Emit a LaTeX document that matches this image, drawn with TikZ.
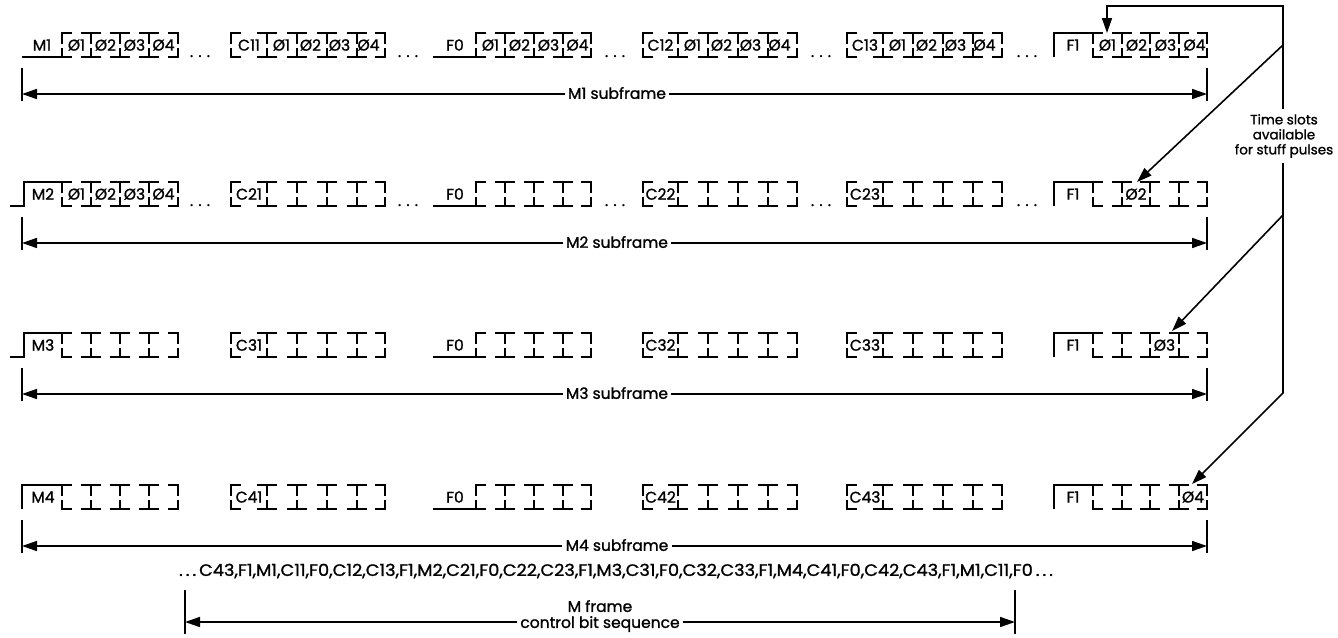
\documentclass[tikz,border=0pt]{standalone}
\usepackage{fontspec}
\usepackage{graphicx}
\setmainfont{Poppins}[FakeBold=1.2]
\usetikzlibrary{arrows.meta}
\newcommand{\slotbox}[4]{%
  \pgfmathsetmacro{\sbTop}{#1-12}\pgfmathsetmacro{\sbBot}{#1+12}%
  \pgfmathsetmacro{\sbMa}{#1-1}\pgfmathsetmacro{\sbMb}{#1+3}%
  \draw[wave] (#2+10,\sbTop) -- (#2,\sbTop) -- (#2,\sbMa) (#2,\sbMb) -- (#2,\sbBot) -- (#2+10,\sbBot);
  \foreach \bx in {#3} {
    \draw[wave] (\bx-10,\sbTop) -- (\bx+10,\sbTop) (\bx,\sbTop) -- (\bx,\sbMa)
      (\bx,\sbMb) -- (\bx,\sbBot) (\bx-10,\sbBot) -- (\bx+10,\sbBot);
  }
  \draw[wave] (#4-10,\sbTop) -- (#4,\sbTop) -- (#4,\sbMa) (#4,\sbMb) -- (#4,\sbBot) -- (#4-10,\sbBot);
}
\newcommand{\rowboxes}[1]{%
  \slotbox{#1}{62}{91,120,149}{178}
  \slotbox{#1}{231}{267,297,327,357}{385}
  \draw[wave] (433,#1+12) -- (476,#1+12);
  \slotbox{#1}{476}{505,534,563}{591}
  \slotbox{#1}{643}{678,708,738,768}{797}
  \slotbox{#1}{847}{883,913,943,973}{1002}
  \draw[wave] (1054,#1+12) -- (1054,#1-12) -- (1093,#1-12);
  \slotbox{#1}{1093}{1122,1150,1179}{1207}
}
\newcommand{\ctrl}[7]{% #1 row name, #2 y, #3..#7 control labels
  \node[lab] (#1c1) at (249,#2) {#3};
  \node[lab] (#1f0) at (455,#2) {#4};
  \node[lab] (#1c2) at (660.5,#2) {#5};
  \node[lab] (#1c3) at (865,#2) {#6};
  \node[lab] (#1f1) at (1073,#2) {#7};
}
\newcommand{\subdim}[3]{% #1 y center, #2 name, #3 text
  \node[lab, fill=white, inner sep=3pt] (#2) at (617,#1+48) {#3};
  \coordinate (#2L) at (22,#1+49);
  \coordinate (#2R) at (1207,#1+49);
  \draw[wave] (22,#1+23) -- (22,#1+56) (1207,#1+23) -- (1207,#1+56);
  \draw[dim] (#2.west |- #2L) -- (#2L);
  \draw[dim] (#2.east |- #2R) -- (#2R);
}
\newcommand{\dotsat}[3]{\node[lab, anchor=base] (#1) at (#2,#3+12) {.\,\,.\,\,.};}
\begin{document}
\begin{tikzpicture}[x=1pt,y=-1pt,
  wave/.style={line width=1.8pt},
  dim/.style={line width=1.6pt, -{Triangle[length=15pt,width=10pt]}},
  lab/.style={font=\fontsize{15.5}{16}\selectfont, inner sep=1pt}]
\fill[white] (0,0) rectangle (1338,637);
\useasboundingbox (0,0) rectangle (1338,637);

% ---------- Row 1 ----------
\rowboxes{45}
\draw[wave] (22,57) -- (62,57);
\node[lab] (m1) at (42,45) {M1};
\ctrl{r1}{45}{C11}{F0}{C12}{C13}{F1}
\foreach \gx [count=\g] in {62,267,476,678,883,1093} {
  \foreach \k [count=\i] in {1,2,3,4} {
    \pgfmathsetmacro{\cx}{\gx + (\i-0.5)*29}
    \node[lab] (r1g\g s\i) at (\cx,45) {Ø\k};
  }
}
\dotsat{r1d1}{200}{45}\dotsat{r1d2}{408}{45}\dotsat{r1d3}{615}{45}
\dotsat{r1d4}{821}{45}\dotsat{r1d5}{1027}{45}
\subdim{45}{sf1}{M1 subframe}

% ---------- Row 2 ----------
\rowboxes{194}
\draw[wave] (10,206) -- (24,206) -- (24,182) -- (62,182);
\node[lab] (m2) at (43,194) {M2};
\ctrl{r2}{194}{C21}{F0}{C22}{C23}{F1}
\foreach \k [count=\i] in {1,2,3,4} {
  \pgfmathsetmacro{\cx}{62 + (\i-0.5)*29}
  \node[lab] (r2g1s\i) at (\cx,194) {Ø\k};
}
\node[lab] (r2f1s2) at (1136,194) {Ø2};
\dotsat{r2d1}{200}{194}\dotsat{r2d2}{408}{194}\dotsat{r2d3}{615}{194}
\dotsat{r2d4}{821}{194}\dotsat{r2d5}{1027}{194}
\subdim{194}{sf2}{M2 subframe}

% ---------- Row 3 ----------
\rowboxes{345}
\draw[wave] (10,357) -- (24,357) -- (24,333) -- (62,333);
\node[lab] (m3) at (43,345) {M3};
\ctrl{r3}{345}{C31}{F0}{C32}{C33}{F1}
\node[lab] (r3f1s3) at (1164.5,345) {Ø3};
\subdim{345}{sf3}{M3 subframe}

% ---------- Row 4 ----------
\rowboxes{497}
\draw[wave] (22,509) -- (22,485) -- (62,485);
\node[lab] (m4) at (43,497) {M4};
\ctrl{r4}{497}{C41}{F0}{C42}{C43}{F1}
\node[lab] (r4f1s4) at (1193,497) {Ø4};
\subdim{497}{sf4}{M4 subframe}

% ---------- Stuff pulse pointers ----------
\node[lab, font=\fontsize{13.5}{15}\selectfont, align=center, inner sep=5pt] (ts) at (1284,136) {Time slots\\available\\for stuff pulses};
\coordinate (fbTop) at (1283,6);
\coordinate (fbA) at (1107,6);
\coordinate (tip1) at (1107,33);
\coordinate (br1) at (1283,45);
\coordinate (tip2) at (1137,182);
\coordinate (br2) at (1283,215);
\coordinate (tip3) at (1172,331);
\coordinate (br3) at (1283,393);
\coordinate (tip4) at (1192,484);
\draw[dim] (ts.north -| fbTop) -- (fbTop) -- (fbA) -- (tip1);
\draw[dim] (br1) -- (tip2);
\draw[dim] (br2) -- (tip3);
\draw[dim] (ts.south -| br3) -- (br3) -- (tip4);

% ---------- Control bit sequence ----------
\node[lab, font=\fontsize{16.5}{17}\selectfont] (seq) at (616,571) {\scalebox{1.075}[1]{.\,.\,.\,C43,F1,M1,C11,F0,C12,C13,F1,M2,C21,F0,C22,C23,F1,M3,C31,F0,C32,C33,F1,M4,C41,F0,C42,C43,F1,M1,C11,F0\,.\,.\,.}};
\draw[wave] (185,590) -- (185,634) (1015,590) -- (1015,634);
\node[lab, align=center, fill=white, inner sep=3pt] (mf) at (600,616) {M frame\\control bit sequence};
\coordinate (mfL) at (185,622);
\coordinate (mfR) at (1015,622);
\draw[dim] (mf.west |- mfL) -- (mfL);
\draw[dim] (mf.east |- mfR) -- (mfR);
\end{tikzpicture}
\end{document}
